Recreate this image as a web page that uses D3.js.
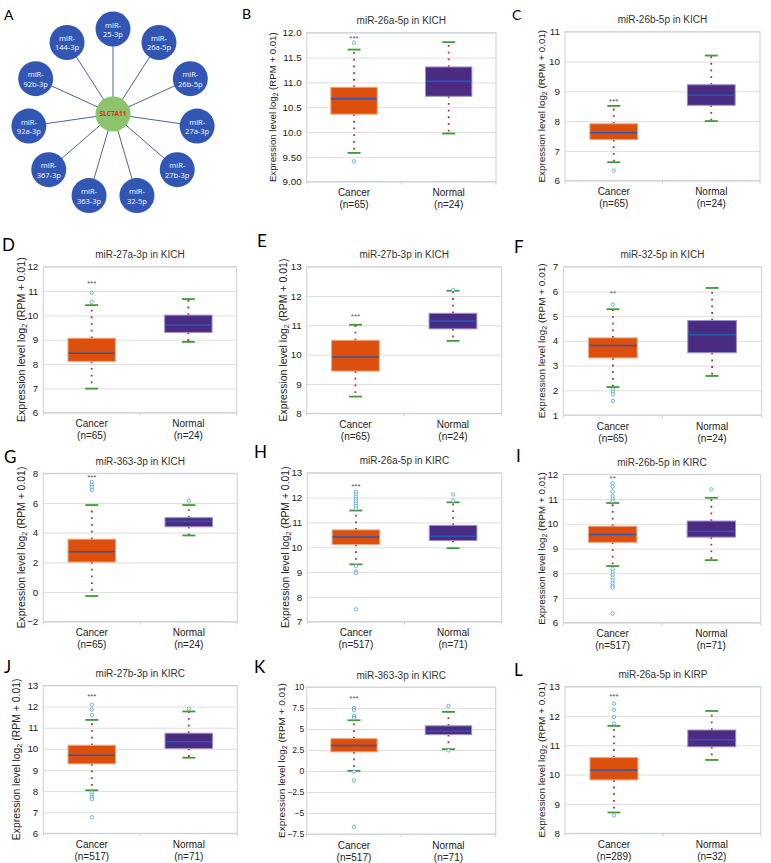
<!DOCTYPE html>
<html><head><meta charset="utf-8">
<script src="https://cdn.jsdelivr.net/npm/d3@7"></script>
<style>
body{margin:0;background:#fff}
svg{display:block}
text{font-family:"Liberation Sans",Arial,Helvetica,sans-serif}
</style>
</head><body>
<svg id="c" width="771" height="863"></svg>
<script>
// ---------- Panel A data ----------
const hubGene = "SLC7A11";
const mirNodes = ["25-3p","26a-5p","26b-5p","27a-3p","27b-3p","32-5p","363-3p","367-3p","92a-3p","92b-3p","144-3p"];

// ---------- Box plot data ----------
const panelLetters = ["B","C","D","E","F","G","H","I","J","K","L"];
const panelTitles = [
  "miR-26a-5p in KICH","miR-26b-5p in KICH","miR-27a-3p in KICH","miR-27b-3p in KICH",
  "miR-32-5p in KICH","miR-363-3p in KICH","miR-26a-5p in KIRC","miR-26b-5p in KIRC",
  "miR-27b-3p in KIRC","miR-363-3p in KIRC","miR-26a-5p in KIRP"];
const groups = ["Cancer","Normal"];
const cancerN = [65,65,65,65,65,65,517,517,517,517,289];
const normalN = [24,24,24,24,24,24,71,71,71,71,32];
// [lower whisker, Q1, median, Q3, upper whisker]
const cancerStats = [
  [9.58,10.36,10.67,10.90,11.66],
  [6.62,7.38,7.61,7.91,8.51],
  [6.99,8.11,8.44,9.06,10.42],
  [8.57,9.44,9.92,10.49,11.02],
  [2.13,3.31,3.81,4.12,5.28],
  [-0.27,2.02,2.72,3.56,5.86],
  [9.31,10.11,10.41,10.70,11.48],
  [8.29,9.25,9.57,9.90,10.84],
  [8.04,9.29,9.70,10.17,11.37],
  [0.02,2.28,3.05,3.85,6.04],
  [8.71,9.82,10.16,10.58,11.66]];
const normalStats = [
  [9.97,10.72,11.02,11.31,11.81],
  [8.00,8.53,8.87,9.22,10.20],
  [8.91,9.30,9.60,10.01,10.67],
  [10.47,10.88,11.15,11.41,12.18],
  [2.58,3.52,4.25,4.82,6.14],
  [3.81,4.40,4.77,5.01,5.86],
  [9.96,10.27,10.44,10.88,11.81],
  [8.53,9.46,9.70,10.11,11.05],
  [9.58,10.02,10.34,10.74,11.77],
  [2.60,4.33,4.72,5.38,7.04],
  [10.50,10.95,11.19,11.52,12.17]];
const cancerOutliers = [
  [11.80,9.41],
  [6.34],
  [10.93,10.56],
  [],
  [5.47,2.03,1.94,1.83,1.57],
  [7.42,7.22,7.05,6.88],
  [12.24,12.13,12.04,11.94,11.85,11.75,11.66,11.56,9.24,9.02,8.96,7.50],
  [11.63,11.50,11.30,11.12,11.00,10.92,8.18,8.05,7.93,7.82,7.70,7.59,7.49,7.42,6.37],
  [12.09,11.86,11.60,7.93,7.82,7.71,7.62,6.76],
  [7.50,7.24,6.55,6.30,-0.08,-1.12,-6.65],
  [12.42,12.21,11.96,11.74,8.61]];
const normalOutliers = [[],[],[],[12.21],[],[6.15],[12.13,11.88],[11.39],[11.91],[7.74,2.46],[]];
const starLabels = ["***","***","***","***","**","***","***","**","***","***","***"];
const starValues = [11.89,8.67,11.34,11.31,5.92,7.75,12.47,11.86,12.48,8.75,12.67];
const yDomains = [[9,12],[6,11],[6,12],[8,13],[1,7],[-2,8],[7,13],[6,12],[6,13],[-7.5,10],[8,13]];
const yTickValues = [
  [12,11.5,11,10.5,10,9.5,9],[11,10,9,8,7,6],[12,11,10,9,8,7,6],[13,12,11,10,9,8],
  [7,6,5,4,3,2,1],[8,6,4,2,0,-2],[13,12,11,10,9,8,7],[12,11,10,9,8,7,6],
  [13,12,11,10,9,8,7,6],[10,7.5,5,2.5,0,-2.5,-5,-7.5],[13,12,11,10,9,8]];
const yTickLabels = [
  ["12.0","11.5","11.0","10.5","10.0","9.50","9.00"],["11","10","9","8","7","6"],
  ["12","11","10","9","8","7","6"],["13","12","11","10","9","8"],
  ["7","6","5","4","3","2","1"],["8","6","4","2","0","\u22122"],
  ["13","12","11","10","9","8","7"],["12","11","10","9","8","7","6"],
  ["13","12","11","10","9","8","7","6"],["10","7.5","5","2.5","0","\u22122.5","\u22125","\u22127.5"],
  ["13","12","11","10","9","8"]];

// ---------- Layout (positions only) ----------
const plotRects = [ // [left, top, right, bottom]
  [306.7,32.7,496,181.7],[565,31.7,760,180.7],
  [43.3,266.7,236.7,412.7],[306.7,266.7,501.7,413.3],[563.3,266.7,761.7,415],
  [43.3,473.3,237.3,621.7],[307.3,472.8,501.7,621.7],[563.3,474.3,760.7,622.7],
  [43.3,685.5,237.3,833.3],[306.7,687,495.7,834],[565,686.6,760.7,833.3]];
const yTitleX = [273,541.7,21.7,283.3,541.7,21.7,285,541.7,16.7,281,541.7];
const yTitleLen = [150,153,165,163,155,162,162,153,162,155,155];
const tickFont = [9.8,9.8,9.8,9.8,9.8,9.8,9.8,9.8,9.8,8.6,9.8];
const tickPad = [5,5,5,5,5,5,5,5,5,2.5,5];
const letterPos = [ // [x, baseline, size]
  [242,19,14],[512,20,14],[2,251,17],[257,247,17],[514,252.7,17],
  [4,462.7,17],[254,458,17],[516,461.7,17],[4,673,17],[254,673,17],[514,676,17]];

const svg = d3.select("#c");

// ---------- Panel A ----------
(function(){
  const cx = 113, cy = 114, R = 85, rNode = 17.5;
  const g = svg.append("g");
  g.append("text").attr("x",4).attr("y",20).attr("font-size",14)
    .style("font-family","Lato, 'Open Sans', sans-serif").text("A");
  const pts = mirNodes.map((m,i)=>{
    const a = (-90 + i*360/mirNodes.length) * Math.PI/180;
    return {name:m, x: cx + R*Math.cos(a), y: cy + R*Math.sin(a)};
  });
  g.selectAll("line.edge").data(pts).join("line")
    .attr("x1",cx).attr("y1",cy).attr("x2",d=>d.x).attr("y2",d=>d.y)
    .attr("stroke","#4a63a6").attr("stroke-width",1);
  const nodes = g.selectAll("g.node").data(pts).join("g")
    .attr("transform",d=>`translate(${d.x},${d.y})`);
  nodes.append("circle").attr("r",rNode).attr("fill","#3156b4");
  nodes.append("text").attr("text-anchor","middle").attr("y",-1.5).attr("font-size",7.5)
    .attr("fill","#fff").style("font-family","'Open Sans', sans-serif").text("miR-");
  nodes.append("text").attr("text-anchor","middle").attr("y",8).attr("font-size",7.5)
    .attr("fill","#fff").style("font-family","'Open Sans', sans-serif").text(d=>d.name);
  g.append("circle").attr("cx",cx).attr("cy",cy).attr("r",17.5).attr("fill","#8cc46c");
  g.append("text").attr("x",cx).attr("y",cy+2.3).attr("text-anchor","middle")
    .attr("font-size",6.5).attr("font-weight","bold").attr("fill","#e5241b")
    .style("font-family","'Open Sans', sans-serif").text(hubGene);
})();

// ---------- Box plots ----------
const boxFill = {Cancer:"#dc4f0c", Normal:"#4a2c82"};
const boxEdge = {Cancer:"#f3a57c", Normal:"#9d8ecb"};

panelLetters.forEach((letter,i)=>{
  const [L,T,Rr,B] = plotRects[i];
  const g = svg.append("g");
  const y = d3.scaleLinear().domain(yDomains[i]).range([B,T]);
  const x = d3.scaleBand().domain(groups).range([L,Rr]);
  const bw = x.bandwidth()*0.49;
  const capW = 13;

  const lp = letterPos[i];
  g.append("text").attr("x",lp[0]).attr("y",lp[1]).attr("font-size",lp[2])
    .style("font-family","Lato, 'Open Sans', sans-serif").text(letter);
  g.append("text").attr("x",(L+Rr)/2).attr("y",T-8.5).attr("text-anchor","middle")
    .attr("font-size",10).attr("fill","#333").text(panelTitles[i]);

  const ax = d3.axisLeft(y).tickValues(yTickValues[i])
    .tickFormat((d,k)=>yTickLabels[i][k]).tickSize(-(Rr-L)).tickPadding(tickPad[i]);
  const ag = g.append("g").attr("transform",`translate(${L},0)`).call(ax);
  ag.select(".domain").remove();
  ag.selectAll(".tick line").attr("stroke","#dedede").attr("stroke-width",1);
  ag.selectAll(".tick text").attr("font-size",tickFont[i]).attr("fill","#222")
    .style("font-family","'Liberation Sans',Arial,sans-serif");

  g.append("rect").attr("x",L).attr("y",T).attr("width",Rr-L).attr("height",B-T)
    .attr("fill","none").attr("stroke","#c9d0da").attr("stroke-width",1);
  [L,(L+Rr)/2,Rr].forEach(tx=>{
    g.append("line").attr("x1",tx).attr("x2",tx).attr("y1",B).attr("y2",B+3)
      .attr("stroke","#c9d0da");
  });

  const yt = g.append("text").attr("transform",`translate(${yTitleX[i]},${(T+B)/2}) rotate(-90)`)
    .attr("text-anchor","middle").attr("dy","0.35em").attr("font-size",10).attr("fill","#222");
  yt.append("tspan").text("Expression level log");
  const sub = yt.append("tspan").attr("font-size",7).attr("dy",2).text("2");
  yt.append("tspan").attr("dy",-2).text(" (RPM + 0.01)");
  const len = yt.node().getComputedTextLength();
  const fs = 10*yTitleLen[i]/len;
  yt.attr("font-size",fs);
  sub.attr("font-size",fs*0.7);

  const nn = [cancerN[i], normalN[i]];
  groups.forEach((grp,k)=>{
    const cxp = x(grp)+x.bandwidth()/2;
    g.append("text").attr("x",cxp).attr("y",B+14.5).attr("text-anchor","middle")
      .attr("font-size",10).attr("fill","#222").text(grp);
    g.append("text").attr("x",cxp).attr("y",B+26.5).attr("text-anchor","middle")
      .attr("font-size",10).attr("fill","#222").text(`(n=${nn[k]})`);
  });

  const stats = {Cancer: cancerStats[i], Normal: normalStats[i]};
  const outs = {Cancer: cancerOutliers[i], Normal: normalOutliers[i]};
  groups.forEach(grp=>{
    const [lo,q1,med,q3,hi] = stats[grp];
    const cxp = x(grp)+x.bandwidth()/2;
    [[q3,hi],[q1,lo]].forEach(([a,b])=>{
      g.append("line").attr("x1",cxp).attr("x2",cxp).attr("y1",y(a)).attr("y2",y(b))
        .attr("stroke","#b3312a").attr("stroke-width",1.8).attr("stroke-dasharray","1.8,4.9");
    });
    [lo,hi].forEach(v=>{
      g.append("line").attr("x1",cxp-capW/2).attr("x2",cxp+capW/2).attr("y1",y(v)).attr("y2",y(v))
        .attr("stroke","#3f9a3a").attr("stroke-width",1.8);
    });
    g.append("rect").attr("x",cxp-bw/2).attr("y",y(q3)).attr("width",bw).attr("height",y(q1)-y(q3))
      .attr("fill",boxFill[grp]).attr("stroke",boxEdge[grp]).attr("stroke-width",1);
    g.append("line").attr("x1",cxp-bw/2+0.5).attr("x2",cxp+bw/2-0.5).attr("y1",y(med)).attr("y2",y(med))
      .attr("stroke","#2a57b3").attr("stroke-width",1.5);
    g.selectAll(null).data(outs[grp]).join("circle")
      .attr("cx",cxp).attr("cy",d=>y(d)).attr("r",1.7)
      .attr("fill","#fff").attr("stroke","#5fa8dc").attr("stroke-width",0.9);
  });
  g.append("text").attr("x",x("Cancer")+x.bandwidth()/2).attr("y",y(starValues[i])+3)
    .attr("text-anchor","middle").attr("font-size",8).attr("fill","#555").text(starLabels[i]);
});
</script>
</body></html>
